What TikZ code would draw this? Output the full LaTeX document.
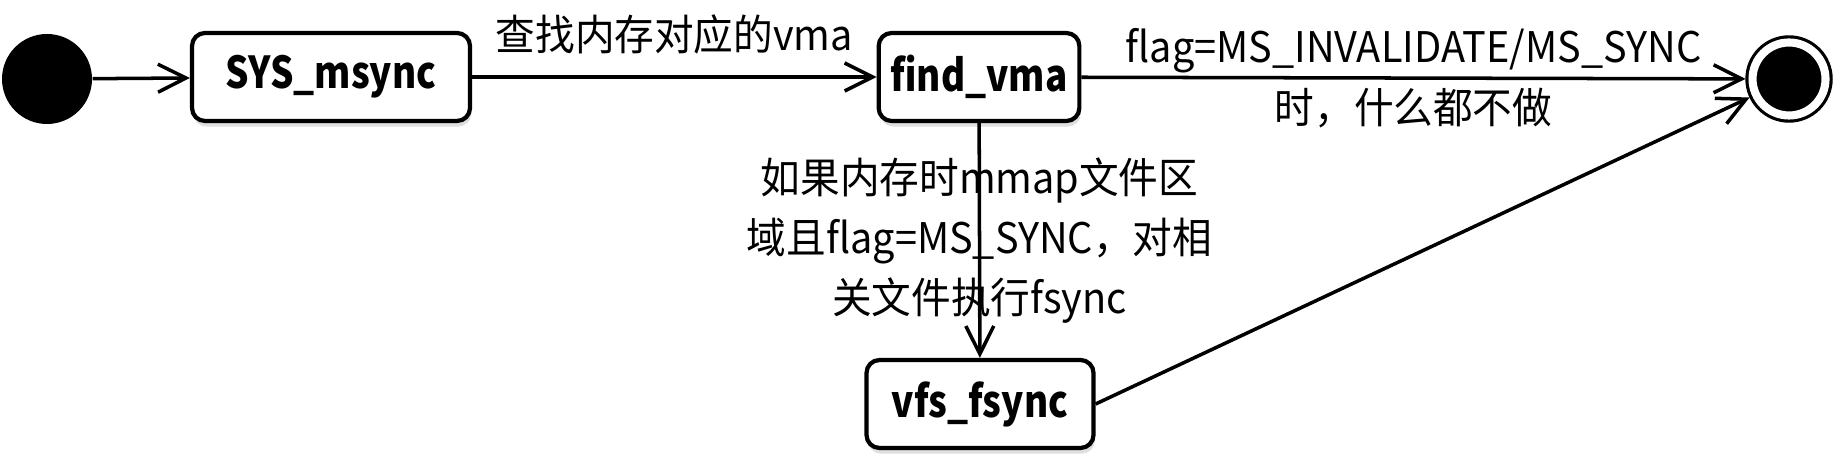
\documentclass[tikz,border=0pt]{standalone}
\usepackage{fontspec}
\setmainfont{Noto Sans CJK SC}
\newfontfamily\statefont[FakeStretch=0.84]{Noto Sans CJK SC}
\newfontfamily\labelfont[FakeStretch=0.94]{Noto Sans CJK SC}
\usetikzlibrary{shapes.geometric, arrows.meta, calc, shadows, positioning}
\tikzstyle{state} = [rectangle, rounded corners=0.13cm, text centered, draw=black,
	line width=1.2pt, fill=white, font=\statefont\fontsize{12.5}{14}\selectfont\bfseries,
	minimum height=0.88cm, drop shadow={opacity=0.25, shadow xshift=0.4pt, shadow yshift=-1.6pt}]
\tikzstyle{arrow} = [->, line width=1pt, >={Straight Barb[length=2.8mm, width=2.8mm, line width=1pt]}]
\tikzstyle{txt} = [font=\labelfont\fontsize{12}{14}\selectfont]

\begin{document}
\begin{tikzpicture}
	\useasboundingbox (0,0) rectangle (18.43,4.68);

	% set up nodes
	\node (start) [circle, fill=black, minimum size=0.9cm, inner sep=0pt] at (0.47,3.89) {};
	\node (sys) [state, minimum width=2.78cm] at (3.31,3.91) {SYS\_msync};
	\node (find) [state, minimum width=2.0cm] at (9.79,3.91) {find\_vma};
	\node (vfs) [state, minimum width=2.27cm] at (9.80,0.64) {vfs\_fsync};
	\node (end) [circle, fill=black, draw=black, double=white, double distance=2.3pt,
		line width=0.9pt, minimum size=0.73cm, inner sep=0pt, outer sep=2pt,
		drop shadow={opacity=0.25, shadow xshift=0.4pt, shadow yshift=-1.6pt}] at (17.89,3.89) {};

	% set up transitions
	\draw [arrow] (start) -- (sys);
	\draw [arrow] (sys) -- (find) node[midway, above, txt, inner sep=6pt] {查找内存对应的vma};
	\draw [arrow] (find) -- (end) node[midway, txt, align=center] {flag=MS\_INVALIDATE/MS\_SYNC\\[3.5pt]时，什么都不做};
	\draw [arrow] (find) -- (vfs) node[midway, txt, align=center] {如果内存时mmap文件区\\[3pt]域且flag=MS\_SYNC，对相\\[3pt]关文件执行fsync};
	\draw [arrow] (vfs.east) -- (end);

\end{tikzpicture}
\end{document}
